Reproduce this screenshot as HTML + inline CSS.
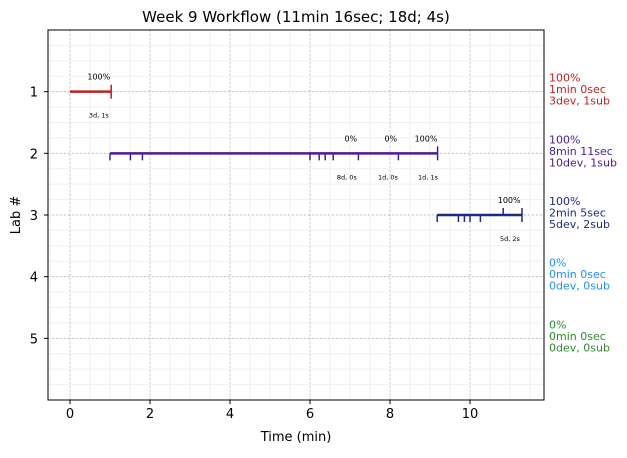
<!DOCTYPE html>
<html><head><meta charset="utf-8"><style>
body{margin:0;background:#fff;font-family:"Liberation Sans","DejaVu Sans",sans-serif;}
</style></head><body>
<svg id="c" width="627" height="453" xmlns="http://www.w3.org/2000/svg" font-family="DejaVu Sans, Liberation Sans, sans-serif"></svg>
<script>
const labs=[1,2,3];
const colors=["#c0201f","#4b1a9a","#1f2a88"];
const starts=[0,1.0,9.18];
const ends=[1.03,9.19,11.3];
const downTicks=[[],[1.0,1.51,1.81,6.0,6.23,6.38,6.58,7.21,8.21],[9.18,9.71,9.86,10.0,10.26]];
const upTicks=[[],[],[10.83]];
const topLabels=[[[0.72,"100%"]],[[7.02,"0%"],[8.02,"0%"],[8.9,"100%"]],[[10.98,"100%"]]];
const botLabels=[[[0.72,"3d, 1s"]],[[6.92,"8d, 0s"],[7.95,"1d, 0s"],[8.95,"1d, 1s"]],[[11.0,"5d, 2s"]]];
const sideText=[["100%","1min 0sec","3dev, 1sub"],["100%","8min 11sec","10dev, 1sub"],["100%","2min 5sec","5dev, 2sub"],["0%","0min 0sec","0dev, 0sub"],["0%","0min 0sec","0dev, 0sub"]];
const sideColors=["#c0201f","#4b1a9a","#1f2a88","#1e90ff","#2e8b2e"];
const xTicks=[0,2,4,6,8,10];
const yTicks=[1,2,3,4,5];
const L=48,R=544,T=30,B=400,xmin=-0.55,xmax=11.85,ymin=0,ymax=6;
const X=v=>L+(v-xmin)/(xmax-xmin)*(R-L);
const Y=v=>T+(v-ymin)/(ymax-ymin)*(B-T);
const s=document.getElementById('c');
function el(t,a,txt){const e=document.createElementNS('http://www.w3.org/2000/svg',t);for(const k in a)e.setAttribute(k,a[k]);if(txt!==undefined)e.textContent=txt;s.appendChild(e);return e;}
// minor grid
for(let v=-0.5;v<=11.85;v+=0.5){const e=el('line',{x1:X(v),x2:X(v),y1:T,y2:B,stroke:'#f0f0f0','stroke-width':1});

}
for(let v=0.25;v<6;v+=0.25){const e=el('line',{x1:L,x2:R,y1:Y(v),y2:Y(v),stroke:'#f0f0f0','stroke-width':1});

}
xTicks.forEach(v=>{const g=el('line',{x1:X(v),x2:X(v),y1:T,y2:B,stroke:'#bbb','stroke-dasharray':'1.5,2.5'});


el('line',{x1:X(v),x2:X(v),y1:B,y2:B+4,stroke:'#000'});
const t=el('text',{x:X(v),y:B+18,'text-anchor':'middle','font-size':13},v);

});
yTicks.forEach(v=>{const g=el('line',{x1:L,x2:R,y1:Y(v),y2:Y(v),stroke:'#bbb','stroke-dasharray':'1.5,2.5'});


el('line',{x1:L-4,x2:L,y1:Y(v),y2:Y(v),stroke:'#000'});
const t=el('text',{x:L-10,y:Y(v)+5,'text-anchor':'end','font-size':13},v);

});
labs.forEach((lab,i)=>{const y=Y(lab),c=colors[i];
const ln=el('line',{x1:X(starts[i]),x2:X(ends[i]),y1:y,y2:y,stroke:c,'stroke-width':2.5});


el('line',{x1:X(ends[i]),x2:X(ends[i]),y1:y-7,y2:y+7,stroke:c,'stroke-width':1.5});
downTicks[i].forEach(v=>{const e=el('line',{x1:X(v),x2:X(v),y1:y,y2:y+7,stroke:c,'stroke-width':1.5});

});
upTicks[i].forEach(v=>{const e=el('line',{x1:X(v),x2:X(v),y1:y-7,y2:y,stroke:c,'stroke-width':1.5});

});
topLabels[i].forEach(([v,t])=>{const e=el('text',{x:X(v),y:y-12,'text-anchor':'middle','font-size':8},t);

});
botLabels[i].forEach(([v,t])=>{const e=el('text',{x:X(v),y:y+26,'text-anchor':'middle','font-size':6.5},t);

});
});
sideText.forEach((lines,i)=>{const y0=Y(i+1)-10;lines.forEach((t,j)=>{const e=el('text',{x:549,y:y0+j*11.5,'font-size':11,fill:sideColors[i]},t);

});});
const fr=el('rect',{x:L,y:T,width:R-L,height:B-T,fill:'none',stroke:'#000','stroke-width':1});


const ti=el('text',{x:296,y:22,'text-anchor':'middle','font-size':15},'Week 9 Workflow (11min 16sec; 18d; 4s)');


const xl=el('text',{x:296,y:441,'text-anchor':'middle','font-size':13},'Time (min)');


const yl=el('text',{x:20,y:215,'text-anchor':'middle','font-size':13,transform:'rotate(-90 20 215)'},'Lab #');


</script>
</body></html>
